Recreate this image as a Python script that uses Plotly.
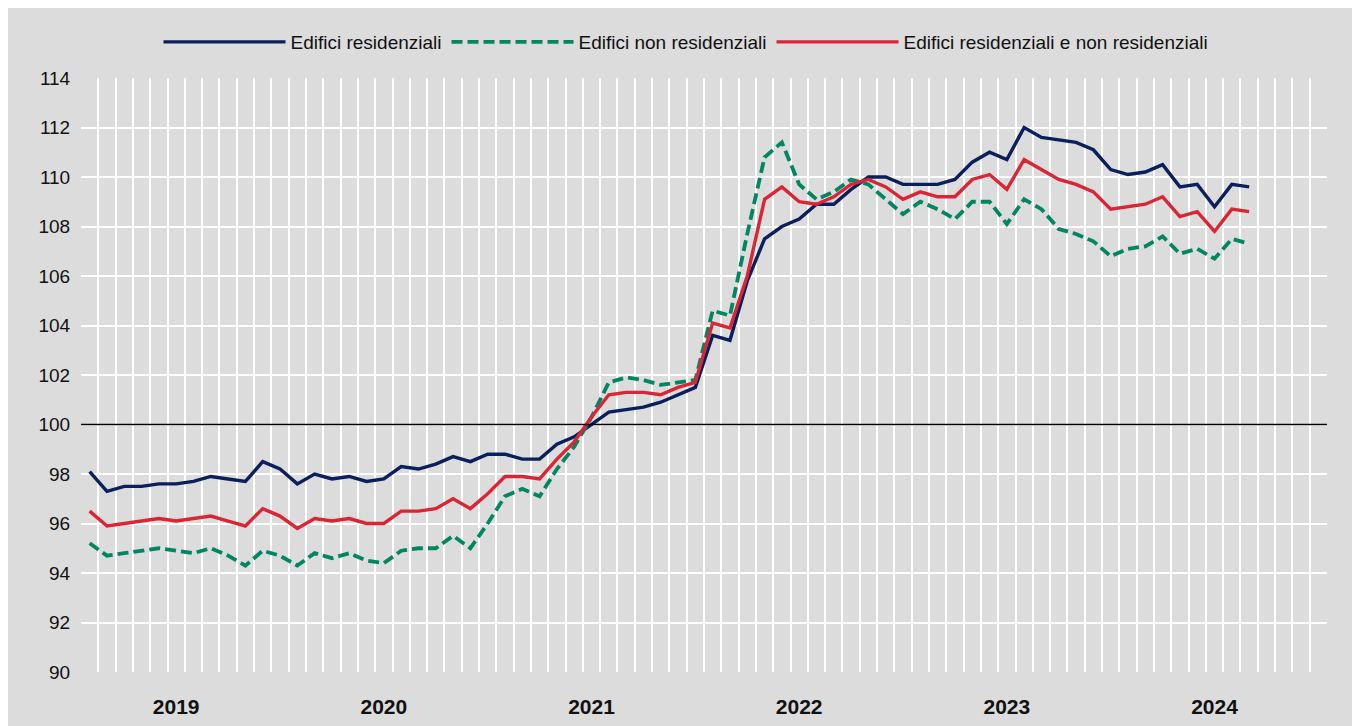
import plotly.graph_objects as go
import pandas as pd

months = pd.date_range("2019-01-01", periods=68, freq="MS").strftime("%Y-%m").tolist()
years = ["2019", "2020", "2021", "2022", "2023", "2024"]
y_ticks = [90, 92, 94, 96, 98, 100, 102, 104, 106, 108, 110, 112, 114]
BASE = 100

residenziali = [
    98.1, 97.3, 97.5, 97.5, 97.6, 97.6, 97.7, 97.9, 97.8, 97.7, 98.5, 98.2,
    97.6, 98.0, 97.8, 97.9, 97.7, 97.8, 98.3, 98.2, 98.4, 98.7, 98.5, 98.8,
    98.8, 98.6, 98.6, 99.2, 99.5, 100.0, 100.5, 100.6, 100.7, 100.9, 101.2, 101.5,
    103.6, 103.4, 105.8, 107.5, 108.0, 108.3, 108.9, 108.9, 109.5, 110.0, 110.0, 109.7,
    109.7, 109.7, 109.9, 110.6, 111.0, 110.7, 112.0, 111.6, 111.5, 111.4, 111.1, 110.3,
    110.1, 110.2, 110.5, 109.6, 109.7, 108.8, 109.7, 109.6,
]
non_residenziali = [
    95.2, 94.7, 94.8, 94.9, 95.0, 94.9, 94.8, 95.0, 94.7, 94.3, 94.9, 94.7,
    94.3, 94.8, 94.6, 94.8, 94.5, 94.4, 94.9, 95.0, 95.0, 95.5, 95.0, 96.0,
    97.1, 97.4, 97.1, 98.2, 99.1, 100.3, 101.7, 101.9, 101.8, 101.6, 101.7, 101.8,
    104.6, 104.4, 107.7, 110.8, 111.4, 109.7, 109.1, 109.4, 109.9, 109.7, 109.1, 108.5,
    109.0, 108.7, 108.3, 109.0, 109.0, 108.1, 109.1, 108.7, 107.9, 107.7, 107.4, 106.8,
    107.1, 107.2, 107.6, 106.9, 107.1, 106.7, 107.5, 107.3,
]
totale = [
    96.5, 95.9, 96.0, 96.1, 96.2, 96.1, 96.2, 96.3, 96.1, 95.9, 96.6, 96.3,
    95.8, 96.2, 96.1, 96.2, 96.0, 96.0, 96.5, 96.5, 96.6, 97.0, 96.6, 97.2,
    97.9, 97.9, 97.8, 98.6, 99.3, 100.3, 101.2, 101.3, 101.3, 101.2, 101.5, 101.7,
    104.1, 103.9, 106.0, 109.1, 109.6, 109.0, 108.9, 109.2, 109.7, 109.9, 109.6, 109.1,
    109.4, 109.2, 109.2, 109.9, 110.1, 109.5, 110.7, 110.3, 109.9, 109.7, 109.4, 108.7,
    108.8, 108.9, 109.2, 108.4, 108.6, 107.8, 108.7, 108.6,
]

n_cells = 12 * len(years)
x_idx = list(range(len(months)))
year_centers = [12 * k + 5 for k in range(len(years))]
boundaries = [k - 0.5 for k in range(n_cells + 1)]

BG = "#DCDCDC"
FONT = "Liberation Sans Narrow, Arial Narrow, Liberation Sans, Arial, sans-serif"
W, H = 1352, 718
L, R, T, B = 73, 33, 70, 54
PW, PH = W - L - R, H - T - B

fig = go.Figure()
fig.add_trace(go.Scatter(x=x_idx, y=residenziali, mode="lines", name="Edifici residenziali",
                         line=dict(color="#0A1F5C", width=3.4), customdata=months))
fig.add_trace(go.Scatter(x=x_idx, y=non_residenziali, mode="lines", name="Edifici non residenziali",
                         line=dict(color="#008761", width=3.8, dash="11px,5px"), customdata=months))
fig.add_trace(go.Scatter(x=x_idx, y=totale, mode="lines", name="Edifici residenziali e non residenziali",
                         line=dict(color="#DA2534", width=3.4), customdata=months))
fig.add_trace(go.Scatter(x=[], y=[], xaxis="x2", showlegend=False, hoverinfo="skip"))

fig.update_layout(
    width=W, height=H,
    margin=dict(l=L, r=R, t=T, b=B, autoexpand=False),
    paper_bgcolor=BG,
    plot_bgcolor=BG,
    font=dict(family=FONT, size=19, color="#111111"),
    showlegend=True,
    legend=dict(orientation="h", x=(678 - L) / PW, xanchor="center", y=(H - B - 34) / PH, yanchor="middle",
                bgcolor="rgba(0,0,0,0)", itemwidth=122, font=dict(size=19),
                traceorder="normal"),
    xaxis=dict(range=[-0.5, n_cells - 0.5], tickmode="array", tickvals=boundaries,
               showticklabels=False, showgrid=True, gridcolor="white", gridwidth=1.6,
               zeroline=False, showline=False, ticks="", automargin=False),
    xaxis2=dict(range=[-0.5, n_cells - 0.5], overlaying="x", anchor="y", side="bottom",
                tickmode="array", tickvals=year_centers, ticktext=years,
                tickfont=dict(size=21, family=FONT, color="#111111", weight="bold"),
                ticks="outside", ticklen=16, tickcolor="rgba(0,0,0,0)",
                showgrid=False, zeroline=False, showline=False, automargin=False),
    yaxis=dict(range=[90, 114], tickmode="array", tickvals=y_ticks,
               showgrid=True, gridcolor="white", gridwidth=1.6, zeroline=False,
               ticks="outside", ticklen=6, tickcolor="rgba(0,0,0,0)", automargin=False),
    shapes=[
        dict(type="line", xref="paper", yref="y", x0=0, x1=1, y0=BASE, y1=BASE,
             line=dict(color="black", width=1.5), layer="above"),
    ],
)

fig.write_html("out.html")
